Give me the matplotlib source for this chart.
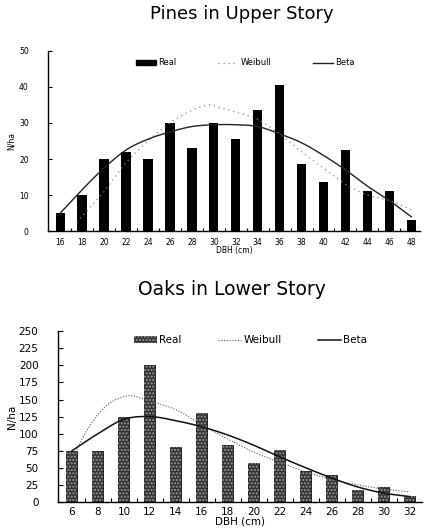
import numpy as np
import matplotlib.pyplot as plt
from matplotlib.patches import Patch
from matplotlib.lines import Line2D

# Pines in upper story: DBH classes (cm) and stems per hectare
pine_dbh = [16, 18, 20, 22, 24, 26, 28, 30, 32, 34, 36, 38, 40, 42, 44, 46, 48]
pine_real = [5, 10, 20, 22, 20, 30, 23, 30, 25.5, 33.5, 40.5, 18.5, 13.5, 22.5, 11, 11, 3]
pine_weib_x = [17.5, 20, 22, 24, 26, 28, 29.5, 30, 32, 34, 36, 38, 40, 42, 44, 46, 48]
pine_weib = [2.5, 11, 19, 25, 30, 33.5, 35, 34.7, 33, 31, 27, 22, 17.5, 13, 10, 8.5, 6]
pine_beta = [5, 11.5, 17.5, 22.5, 25.5, 27.5, 29, 29.5, 29.5, 29, 27, 24.5, 21, 17, 12.5, 8.5, 4]

# Oaks in lower story
oak_dbh = [6, 8, 10, 12, 14, 16, 18, 20, 22, 24, 26, 28, 30, 32]
oak_real = [75, 75, 125, 201, 80, 130, 83, 57, 76, 45, 40, 18, 22, 9]
oak_weib_x = [6, 7, 8, 9, 10, 10.5, 12, 14, 16, 18, 20, 22, 24, 26, 28, 30, 32]
oak_weib = [62, 100, 128, 146, 154, 156, 148, 135, 113, 92, 73, 58, 44, 33, 25, 19, 15]
oak_beta = [75, 100, 121, 125, 119, 110, 98, 83, 66, 50, 35, 22, 13, 8]


def smooth(x, y, n=200):
    # cubic Hermite curve through the fitted points, for drawing only
    x = np.asarray(x, float)
    y = np.asarray(y, float)
    xs = np.linspace(x[0], x[-1], n)
    out = np.empty_like(xs)
    for k, xv in enumerate(xs):
        i = min(np.searchsorted(x, xv, side='right') - 1, len(x) - 2)
        i = max(i, 0)
        x0, x1 = x[i], x[i + 1]
        y0, y1 = y[i], y[i + 1]
        m0 = (y1 - y[i - 1]) / (x1 - x[i - 1]) if i > 0 else (y1 - y0) / (x1 - x0)
        m1 = (y[i + 2] - y0) / (x[i + 2] - x0) if i + 2 < len(x) else (y1 - y0) / (x1 - x0)
        h = x1 - x0
        t = (xv - x0) / h
        out[k] = ((2*t**3 - 3*t**2 + 1) * y0 + (t**3 - 2*t**2 + t) * h * m0
                  + (-2*t**3 + 3*t**2) * y1 + (t**3 - t**2) * h * m1)
    return xs, out


plt.rcParams['font.family'] = ['DejaVu Sans']
fig = plt.figure(figsize=(4.26, 5.29), dpi=100)

# ---- top panel: pines ----
ax1 = fig.add_axes([0.113, 0.563, 0.873, 0.341])
ax1.bar(pine_dbh, pine_real, width=0.85, color='black', zorder=2)
wx, wy = smooth(pine_weib_x, pine_weib)
ax1.plot(wx, wy, color='#888888', linestyle=(0, (1, 3)), linewidth=0.9, zorder=3)
bx, by = smooth(pine_dbh, pine_beta)
ax1.plot(bx, by, color='#222222', linewidth=1.0, zorder=3)
ax1.set_xlim(14.9, 48.8)
ax1.set_ylim(0, 50)
ax1.set_xticks(pine_dbh)
ax1.set_xticks(np.arange(17, 48, 2), minor=True)
ax1.set_yticks(np.arange(0, 51, 10))
ax1.tick_params(axis='x', which='major', length=0, labelsize=5.5, pad=5)
ax1.tick_params(axis='x', which='minor', direction='in', length=2.5, width=0.8)
ax1.tick_params(axis='y', direction='in', length=3, width=0.8, labelsize=5.5, pad=14)
ax1.spines[['top', 'right']].set_visible(False)
ax1.spines[['left', 'bottom']].set_linewidth(1.0)
ax1.set_xlabel('DBH (cm)', fontsize=5.5, labelpad=-1)
ax1.set_ylabel('N/ha', fontsize=5.5, labelpad=2)
h1 = [Patch(facecolor='black', edgecolor='black'),
      Line2D([], [], color='#888888', linestyle=(0, (1, 3)), linewidth=0.9),
      Line2D([], [], color='#222222', linewidth=1.0)]
ax1.legend(h1, ['Real', 'Weibull', 'Beta'], ncol=3, frameon=False, fontsize=6,
           loc='upper center', bbox_to_anchor=(0.53, 1.0), handlelength=2.4,
           handleheight=0.5, handletextpad=0.3, columnspacing=5)
fig.text(0.568, 0.973, 'Pines in Upper Story', ha='center', va='center', fontsize=13)

# ---- bottom panel: oaks ----
ax2 = fig.add_axes([0.136, 0.051, 0.854, 0.323])
ax2.bar(oak_dbh, oak_real, width=0.85, color='#333333', edgecolor='#111111',
        linewidth=0.6, zorder=2)
ax2.bar(oak_dbh, oak_real, width=0.85, facecolor='none', edgecolor='#9a9a9a',
        linewidth=0, hatch='.....', zorder=2)
wx, wy = smooth(oak_weib_x, oak_weib)
ax2.plot(wx, wy, color='#555555', linestyle=(0, (1, 1.5)), linewidth=0.8, zorder=3)
bx, by = smooth(oak_dbh, oak_beta)
ax2.plot(bx, by, color='#111111', linewidth=1.1, zorder=3)
ax2.set_xlim(4.92, 32.92)
ax2.set_ylim(0, 250)
ax2.set_xticks(oak_dbh)
ax2.set_xticks(np.arange(7, 32, 2), minor=True)
ax2.set_yticks(np.arange(0, 251, 25))
ax2.tick_params(axis='x', which='major', length=0, labelsize=7.5, pad=3.5)
ax2.tick_params(axis='x', which='minor', direction='in', length=3, width=0.8)
ax2.tick_params(axis='y', direction='in', length=3.5, width=0.8, labelsize=7.5, pad=14)
ax2.spines[['top', 'right']].set_visible(False)
ax2.spines[['left', 'bottom']].set_linewidth(1.0)
ax2.set_xlabel('DBH (cm)', fontsize=7.5, labelpad=-0.5)
ax2.set_ylabel('N/ha', fontsize=7.5, labelpad=1)
h2 = [Patch(facecolor='#333333', edgecolor='#9a9a9a', linewidth=0, hatch='.....'),
      Line2D([], [], color='#555555', linestyle=(0, (1, 1.5)), linewidth=0.8),
      Line2D([], [], color='#111111', linewidth=1.1)]
ax2.legend(h2, ['Real', 'Weibull', 'Beta'], ncol=3, frameon=False, fontsize=7.5,
           loc='upper center', bbox_to_anchor=(0.53, 1.03), handlelength=2.2,
           handleheight=0.6, handletextpad=0.2, columnspacing=3.5)
fig.text(0.545, 0.452, 'Oaks in Lower Story', ha='center', va='center', fontsize=13.5)

fig.savefig('out.png', dpi=100)
